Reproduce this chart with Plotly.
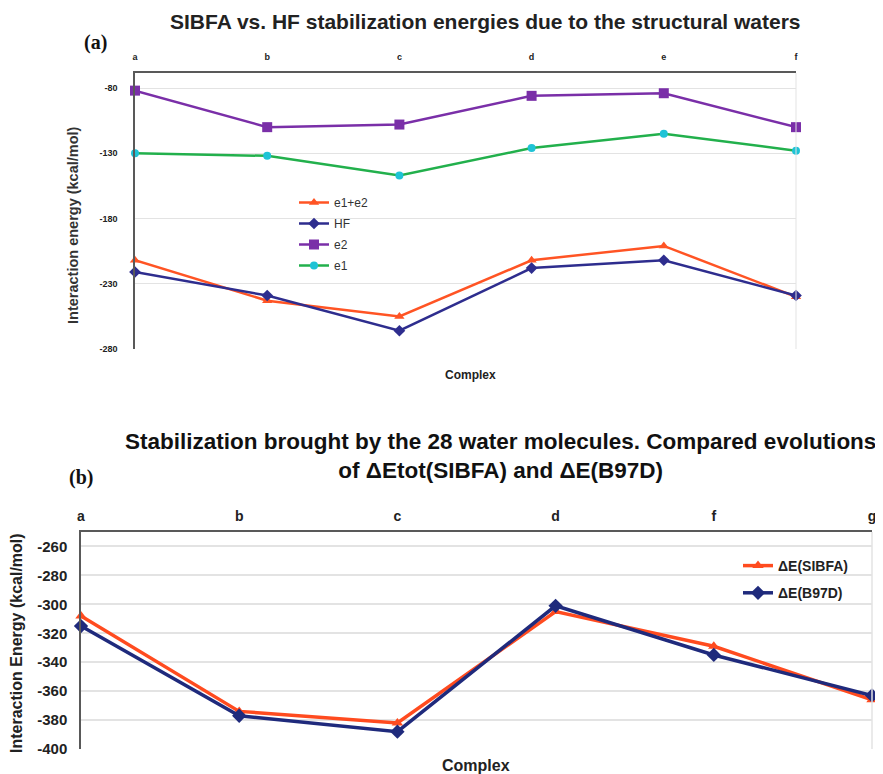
import plotly.graph_objects as go

# ---------------- Data ----------------
# Panel (a)
cats_a = ["a", "b", "c", "d", "e", "f"]
e1e2 = [-212, -243, -255, -212, -201, -240]
hf = [-221, -239, -266, -218, -212, -239]
e2 = [-82, -110, -108, -86, -84, -110]
e1 = [-130, -132, -147, -126, -115, -128]
yticks_a = [-280, -230, -180, -130, -80]

# Panel (b)
cats_b = ["a", "b", "c", "d", "f", "g"]
de_sibfa = [-308, -374, -382, -305, -329, -366]
de_b97d = [-315, -377, -388, -301, -335, -363]
yticks_b = [-400, -380, -360, -340, -320, -300, -280, -260]

# page body has an 8px default margin: size the figure to fit the window
OFF = 8
W, H = 883 - OFF, 774 - OFF
def px(x):
    return (x - OFF) / W
def py(y):
    return 1 - (y - OFF) / H

ORANGE = "#FF5424"
NAVY = "#2E2D8E"
PURPLE = "#7A2FA8"
GREEN = "#22B04C"
CYAN = "#1FC3D6"
NAVY_B = "#1F2A7C"
ORANGE_B = "#FF4B1F"

FONT = "Liberation Sans, Arial, sans-serif"

fig = go.Figure()
xa = list(range(len(cats_a)))
xb = list(range(len(cats_b)))

fig.add_trace(go.Scatter(x=xa, y=e1e2, name="e1+e2", mode="lines+markers",
                         line=dict(color=ORANGE, width=2.5),
                         marker=dict(symbol="triangle-up", size=9, color=ORANGE),
                         xaxis="x", yaxis="y", legend="legend", legendgroup="g1", cliponaxis=False))
fig.add_trace(go.Scatter(x=xa, y=hf, name="HF", mode="lines+markers",
                         line=dict(color=NAVY, width=2.5),
                         marker=dict(symbol="diamond", size=9, color=NAVY),
                         xaxis="x", yaxis="y", legend="legend", legendgroup="g2", cliponaxis=False))
fig.add_trace(go.Scatter(x=xa, y=e2, name="e2", mode="lines+markers",
                         line=dict(color=PURPLE, width=2.5),
                         marker=dict(symbol="square", size=10, color=PURPLE),
                         xaxis="x", yaxis="y", legend="legend", legendgroup="g3", cliponaxis=False))
fig.add_trace(go.Scatter(x=xa, y=e1, name="e1", mode="lines+markers",
                         line=dict(color=GREEN, width=2.5),
                         marker=dict(symbol="circle", size=8, color=CYAN),
                         xaxis="x", yaxis="y", legend="legend", legendgroup="g4", cliponaxis=False))

fig.add_trace(go.Scatter(x=xb, y=de_sibfa, name="ΔE(SIBFA)", mode="lines+markers",
                         line=dict(color=ORANGE_B, width=3.5),
                         marker=dict(symbol="triangle-up", size=10, color=ORANGE_B),
                         xaxis="x2", yaxis="y2", legend="legend2", legendgroup="h1", cliponaxis=False))
fig.add_trace(go.Scatter(x=xb, y=de_b97d, name="ΔE(B97D)", mode="lines+markers",
                         line=dict(color=NAVY_B, width=3.5),
                         marker=dict(symbol="diamond", size=11, color=NAVY_B),
                         xaxis="x2", yaxis="y2", legend="legend2", legendgroup="h2", cliponaxis=False))

AXLINE = "#595959"
GRID = "#E3E3E3"

fig.update_layout(
    width=W, height=H,
    margin=dict(l=0, r=0, t=0, b=0, pad=0, autoexpand=False),
    paper_bgcolor="white", plot_bgcolor="white",
    font=dict(family=FONT, color="#222"),
    showlegend=True,
    xaxis=dict(domain=[px(135), px(796)], anchor="y", side="top", range=[0, 5],
               tickmode="array", tickvals=xa, ticktext=cats_a, automargin=False,
               showline=True, linecolor=AXLINE, linewidth=1.5, showgrid=False,
               ticks="", tickfont=dict(size=9, weight="bold", color="#222"),
               ticklabelstandoff=8, zeroline=False),
    yaxis=dict(domain=[py(349), py(73)], anchor="x", range=[-280, -68.5],
               tickmode="array", tickvals=yticks_a, ticktext=[str(v) for v in yticks_a],
               automargin=False,
               showline=True, linecolor=AXLINE, linewidth=1.5,
               showgrid=True, gridcolor=GRID, gridwidth=1,
               ticks="", tickfont=dict(size=9, weight="bold", color="#222"),
               ticklabelstandoff=14, zeroline=False),
    xaxis2=dict(domain=[px(81), px(872)], anchor="y2", side="top", range=[0, 5],
                tickmode="array", tickvals=xb, ticktext=cats_b, automargin=False,
                showline=True, linecolor=AXLINE, linewidth=1.5, showgrid=False,
                ticks="", tickfont=dict(size=14, weight="bold", color="#222"),
                ticklabelstandoff=4, zeroline=False),
    yaxis2=dict(domain=[py(749), py(532)], anchor="x2", range=[-400, -250],
                tickmode="array", tickvals=yticks_b, ticktext=[str(v) for v in yticks_b],
                automargin=False,
                showline=True, linecolor=AXLINE, linewidth=1.5,
                showgrid=True, gridcolor=GRID, gridwidth=1.5,
                ticks="", tickfont=dict(size=15, weight="bold", color="#222"),
                ticklabelstandoff=9, zeroline=False),
    legend=dict(x=px(294), y=py(188), xanchor="left", yanchor="top",
                bgcolor="rgba(0,0,0,0)", font=dict(size=12, color="#333"),
                traceorder="grouped", tracegroupgap=2, itemwidth=30),
    legend2=dict(x=px(738), y=py(550), xanchor="left", yanchor="top",
                 bgcolor="rgba(0,0,0,0)", font=dict(size=14, weight="bold", color="#222"),
                 traceorder="grouped", tracegroupgap=6, itemwidth=30),
)

# right borders (light)
fig.add_shape(type="line", xref="x domain", yref="y domain", x0=1, x1=1, y0=0, y1=1,
              line=dict(color=GRID, width=1))
fig.add_shape(type="line", xref="x2 domain", yref="y2 domain", x0=1, x1=1, y0=0, y1=1,
              line=dict(color=GRID, width=1.5))

ann = []
ann.append(dict(text="SIBFA vs. HF stabilization energies due to the structural waters",
                x=px(485), y=py(21), font=dict(size=21, weight="bold", color="#222")))
ann.append(dict(text="(a)", x=px(95), y=py(43),
                font=dict(size=20, weight="bold", family="Liberation Serif, Times New Roman, serif", color="#111")))
ann.append(dict(text="Interaction energy (kcal/mol)", x=px(73), y=py(225), textangle=-90,
                font=dict(size=14.5, weight="bold", color="#333")))
ann.append(dict(text="Complex", x=px(470), y=py(375), font=dict(size=12, weight="bold", color="#222")))

ann.append(dict(text="Stabilization brought by the 28 water molecules. Compared evolutions<br>of ΔEtot(SIBFA) and ΔE(B97D)",
                x=px(501), y=py(456), font=dict(size=22.5, weight="bold", color="#111")))
ann.append(dict(text="(b)", x=px(81), y=py(477),
                font=dict(size=20, weight="bold", family="Liberation Serif, Times New Roman, serif", color="#111")))
ann.append(dict(text="Interaction Energy (kcal/mol)", x=px(16), y=py(643), textangle=-90,
                font=dict(size=16, weight="bold", color="#222")))
ann.append(dict(text="Complex", x=px(476), y=py(765), font=dict(size=16, weight="bold", color="#222")))

for a in ann:
    a.update(xref="paper", yref="paper", showarrow=False, xanchor="center", yanchor="middle")
fig.update_layout(annotations=ann)

fig.write_html("out.html")
